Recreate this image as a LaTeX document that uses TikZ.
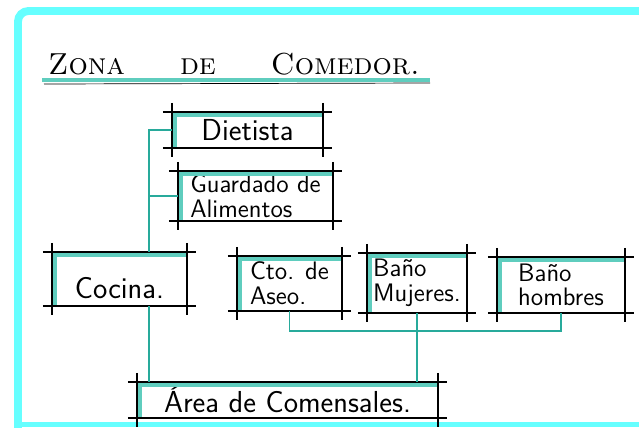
\documentclass[tikz,border=0pt]{standalone}
\usepackage{xcolor}
\usetikzlibrary{positioning}
\definecolor{framecyan}{RGB}{102,255,255}
\definecolor{marker}{RGB}{95,205,190}
\definecolor{linkteal}{RGB}{40,170,155}
\begin{document}
\begin{tikzpicture}[x=0.02cm, y=-0.02cm,
    room/.style={rectangle, inner sep=0pt, align=left, font=\sffamily\LARGE},
    small room/.style={room, font={\linespread{0.78}\sffamily\Large}},
    pen/.style={black, line width=1.1pt},
    link/.style={linkteal, line width=0.9pt}]
    \useasboundingbox (0,0) rectangle (639,427);

    % Frame
    \draw[framecyan, line width=4.5pt, rounded corners=6pt] (18,430) -- (18,11) -- (645,11);
    \fill[framecyan] (14,422) rectangle (639,427);

    % Title
    \node[anchor=base west, font=\LARGE\scshape] (title) at (42,74) {Zona\hspace{1.1cm}de\hspace{1.1cm}Comedor.};
    \draw[marker, line width=2.2pt] (42,80) -- (430,80);
    \draw[black, line width=0.4pt] (44,84) -- (430,83);

    % Rooms
    \node[room, minimum width=3.02cm, minimum height=0.72cm] (diet) at (247.5,130) {Dietista};
    \node[small room, minimum width=3.1cm, minimum height=1.0cm] (guard) at (255.5,196) {Guardado de\\Alimentos};
    \node[room, minimum width=2.7cm, minimum height=1.08cm] (cocina) at (119.5,279) {\mbox{}\\Cocina.};
    \node[small room, minimum width=2.1cm, minimum height=1.1cm] (aseo) at (289.5,283.5) {Cto. de\\Aseo.};
    \node[small room, minimum width=2.0cm, minimum height=1.2cm] (mujeres) at (417,283) {Baño\\Mujeres.};
    \node[small room, minimum width=2.56cm, minimum height=1.12cm] (hombres) at (561,285) {Baño\\hombres};
    \node[room, minimum width=6.02cm, minimum height=0.72cm] (area) at (287.5,400) {Área de Comensales.};

    % Sketch lines of each room
    \foreach \r in {diet,guard,cocina,aseo,mujeres,hombres,area} {
        \fill[marker] (\r.north west) rectangle ([yshift=-3pt]\r.north east);
        \fill[marker] (\r.north west) rectangle ([xshift=3pt]\r.south west);
        \draw[pen] ([xshift=-5pt]\r.north west) -- ([xshift=5pt]\r.north east);
        \draw[pen] ([xshift=-5pt]\r.south west) -- ([xshift=5pt]\r.south east);
        \draw[pen] ([yshift=5pt]\r.north west) -- ([yshift=-5pt]\r.south west);
        \draw[pen] ([yshift=5pt]\r.north east) -- ([yshift=-5pt]\r.south east);
    }

    % Connections
    \coordinate (spine) at (149,0);
    \coordinate (bus) at (0,331);
    \draw[link] (diet.west) -| (cocina.north -| spine);
    \draw[link] (guard.west) -- (guard.west -| spine);
    \draw[link] (cocina.south -| spine) -- (area.north -| spine);
    \draw[link] (aseo.south) |- (bus -| hombres.south) -- (hombres.south);
    \draw[link] (mujeres.south) -- (area.north -| mujeres.south);
\end{tikzpicture}
\end{document}
